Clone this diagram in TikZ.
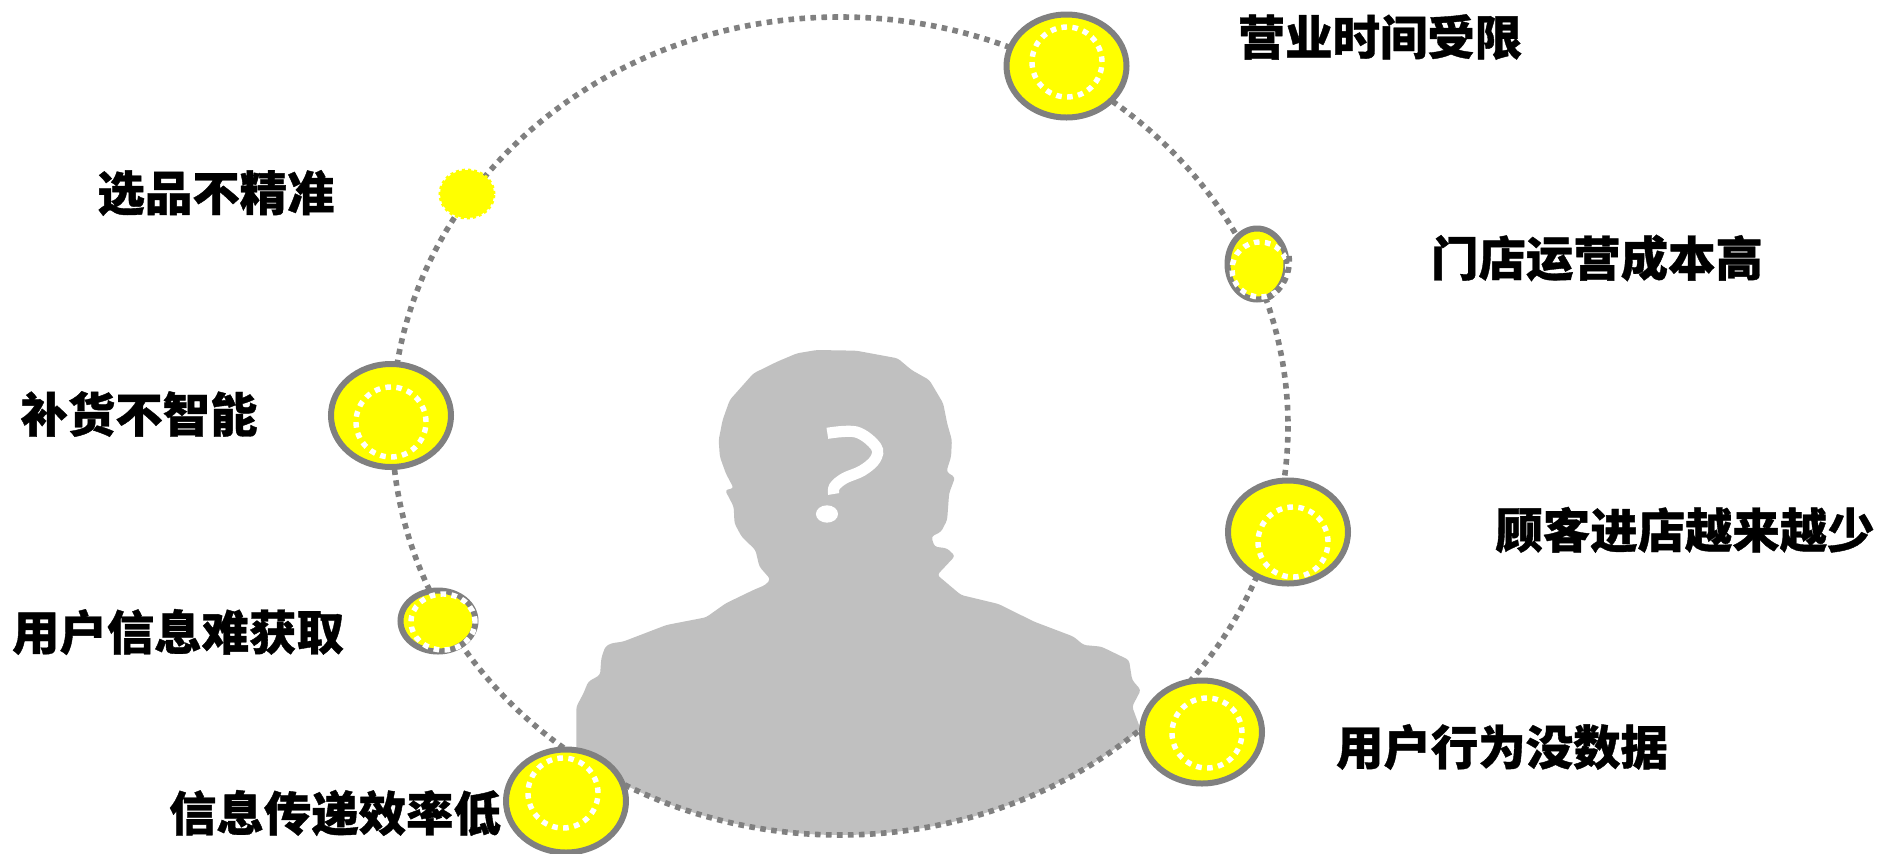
\documentclass[tikz,border=0pt]{standalone}
\usepackage{fontspec}
\newfontfamily\cjk[FakeBold=0.8]{Noto Sans CJK SC Black}
\usetikzlibrary{shapes.geometric}
\definecolor{ringgray}{HTML}{808080}
\definecolor{sil}{HTML}{C0C0C0}
\definecolor{blobfill}{HTML}{FFFF00}
\tikzset{
  ringline/.style={draw=ringgray,line width=2.8pt,dash pattern=on 2.8pt off 2.7pt},
  blob/.style n args={2}{ellipse,draw=ringgray,fill=blobfill,line width=3pt,inner sep=0pt,minimum width=#1pt,minimum height=#2pt},
  softblob/.style n args={2}{ellipse,draw=blobfill,fill=blobfill,line width=1.5pt,dash pattern=on 1.5pt off 1.5pt,inner sep=0pt,minimum width=#1pt,minimum height=#2pt},
  innerring/.style n args={2}{ellipse,draw=white,line width=2.7pt,dash pattern=on 2.8pt off 2.7pt,inner sep=0pt,minimum width=#1pt,minimum height=#2pt},
  lab/.style={font=\cjk\fontsize{23.7pt}{26pt}\selectfont,text=black,inner sep=0pt,anchor=center}
}
\begin{document}
\begin{tikzpicture}[x=0.5pt,y=-0.5pt]
\useasboundingbox (0,0) rectangle (1881,853);
\begin{scope}
\clip (840,426) ellipse [x radius=448,y radius=409];
\begin{scope}[shift={(540,330)},xscale=0.3953,yscale=0.3333]
\fill[sil,rounded corners=1.5pt] (92,1800) -- (92,1130) -- (110,1090) -- (122,1055) -- (152,1035) -- (155,985) -- (165,950) -- (180,940) -- (210,935) -- (320,885) -- (420,862) -- (470,820) -- (540,780) -- (570,765) -- (583,748) -- (555,710) -- (545,660) -- (510,620) -- (492,580) -- (490,530) -- (468,480) -- (490,475) -- (470,430) -- (455,380) -- (452,330) -- (462,270) -- (480,210) -- (510,170) -- (540,130) -- (600,95) -- (650,70) -- (700,60) -- (800,62) -- (905,85) -- (940,120) -- (985,150) -- (1020,220) -- (1030,280) -- (1042,330) -- (1040,380) -- (1028,425) -- (1050,442) -- (1035,490) -- (1030,570) -- (1015,605) -- (990,620) -- (998,650) -- (1030,655) -- (1050,678) -- (1005,735) -- (1065,795) -- (1160,822) -- (1250,875) -- (1350,920) -- (1375,945) -- (1420,950) -- (1490,990) -- (1498,1050) -- (1520,1080) -- (1498,1130) -- (1520,1200) -- (1520,1800) -- cycle;
\draw[white,line width=5.6pt] plot[smooth,tension=0.6] coordinates {(727,310) (800,306) (850,350) (848,388) (815,422) (770,445) (745,470) (743,492)};
\fill[white] (726,552) ellipse [x radius=28,y radius=26];
\end{scope}
\end{scope}
\draw[ringline] (840,426) ellipse [x radius=448,y radius=409];
% blobs
\node[blob={60}{51.5}] (b1) at (1066.5,66) {};
\node[innerring={35}{35}] (i1) at (1067,62) {};
\node[blob={29.5}{35.5}] (b2) at (1257,264) {};
\node[innerring={28}{27.5}] (i2) at (1260,269.5) {};
\draw[ringline] (1289,256) .. controls (1291,272) and (1283,290) .. (1268,298);
\node[softblob={27}{24}] (b3) at (467,194) {};
\node[blob={60}{51.5}] (b4) at (391,415.5) {};
\node[innerring={35}{35}] (i4) at (391,422) {};
\node[blob={37.5}{30.5}] (b5) at (438,621) {};
\node[innerring={32}{28}] (i5) at (443,622) {};
\node[blob={60}{51.5}] (b6) at (566,801) {};
\node[innerring={35}{35}] (i6) at (563,793) {};
\node[blob={60}{51.5}] (b7) at (1202,732) {};
\node[innerring={35}{35}] (i7) at (1207,733) {};
\node[blob={60}{51.5}] (b8) at (1288,532) {};
\node[innerring={35}{35}] (i8) at (1293,542) {};
% labels
\node[lab] (t1) at (1380,37) {营业时间受限};
\node[lab] (t2) at (1597,258) {门店运营成本高};
\node[lab] (t3) at (1685,530) {顾客进店越来越少};
\node[lab] (t4) at (1502,747) {用户行为没数据};
\node[lab] (t5) at (335,813) {信息传递效率低};
\node[lab] (t6) at (178,632) {用户信息难获取};
\node[lab] (t7) at (139,414) {补货不智能};
\node[lab] (t8) at (216,193) {选品不精准};
\end{tikzpicture}
\end{document}
